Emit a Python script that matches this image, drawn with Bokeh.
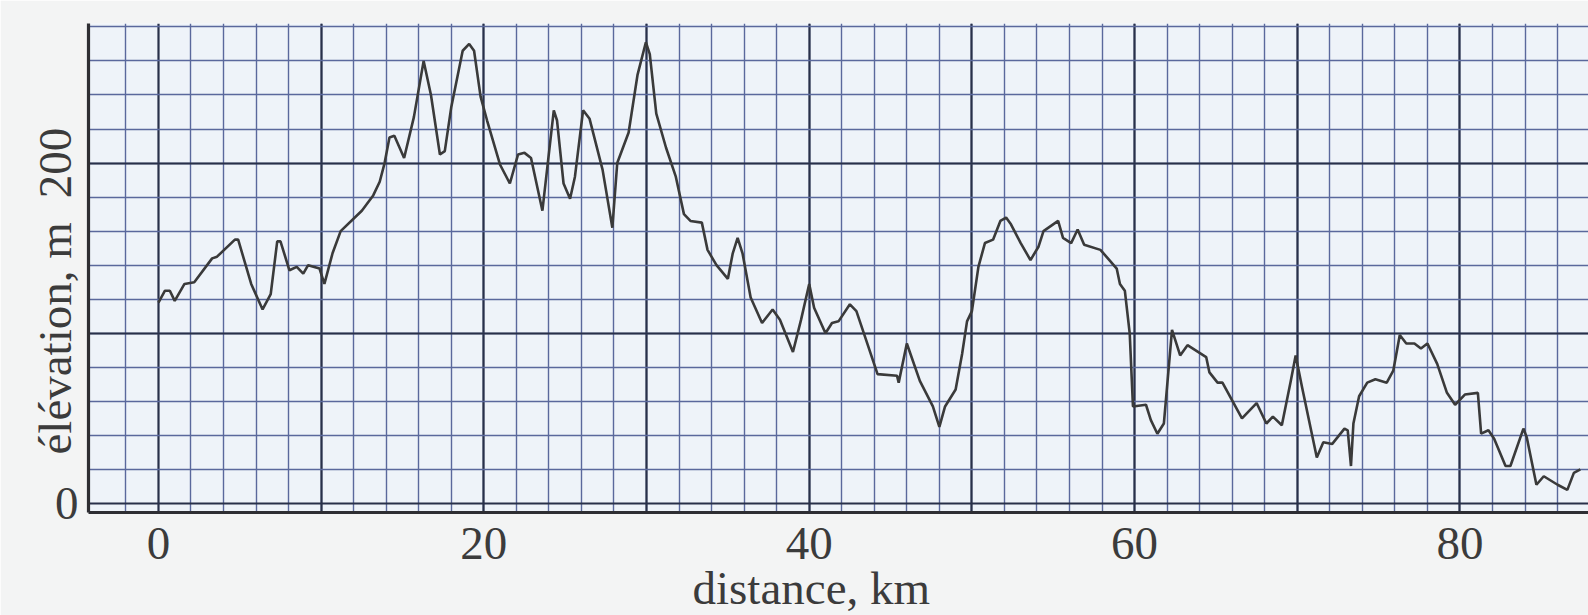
from bokeh.plotting import figure
from bokeh.models import FixedTicker, LinearAxis, Title
from bokeh.embed import file_html
from bokeh.resources import INLINE

# ---- data ----
distance_km = [0.0, 0.4, 0.7, 1.0, 1.6, 2.2, 3.3, 3.6, 4.7, 4.9, 5.7, 6.4, 6.9, 7.3, 7.5,
               8.05, 8.5, 8.9, 9.2, 9.9, 10.2, 10.7, 11.2, 12.5, 13.2, 13.6, 13.9, 14.2, 14.5,
               15.1, 15.7, 16.3, 16.75, 17.3, 17.6, 18.0, 18.7, 19.1, 19.4, 19.8, 20.2, 21.0,
               21.6, 22.1, 22.5, 22.9, 23.6, 24.3, 24.5, 24.9, 25.3, 25.6, 26.1, 26.5, 27.3,
               27.9, 28.2, 28.9, 29.45, 29.96, 30.2, 30.6, 31.2, 31.8, 32.3, 32.7, 33.4, 33.75,
               34.3, 35.0, 35.3, 35.6, 35.9, 36.4, 37.1, 37.75, 38.2, 39.0, 39.5, 40.0, 40.3,
               41.0, 41.4, 41.8, 42.5, 42.9, 43.5, 44.2, 45.4, 45.5, 46.0, 46.8, 47.6, 48.0,
               48.35, 49.0, 49.4, 49.7, 50.0, 50.4, 50.8, 51.3, 51.75, 52.1, 52.4, 53.0, 53.6,
               54.1, 54.4, 55.3, 55.6, 56.1, 56.5, 56.9, 57.9, 58.45, 58.9, 59.1, 59.4, 59.7,
               59.9, 60.7, 61.0, 61.4, 61.8, 62.3, 62.8, 63.25, 64.4, 64.6, 65.1, 65.4, 66.6,
               67.5, 68.1, 68.5, 69.05, 69.6, 69.9, 70.3, 71.2, 71.6, 72.15, 72.9, 73.1, 73.3,
               73.45, 73.8, 74.3, 74.8, 75.5, 75.9, 76.3, 76.7, 77.2, 77.6, 78.0, 78.6, 79.2,
               79.7, 80.3, 81.1, 81.3, 81.75, 82.1, 82.8, 83.1, 83.9, 84.1, 84.7, 85.15, 86.0,
               86.6, 87.0, 87.4]
elevation_m = [118, 125, 125, 119, 129, 130, 144, 145, 155, 155, 129, 114, 123, 154, 154,
               137, 139, 135, 140, 138, 129, 147, 160, 172, 181, 189, 200, 215, 216,
               203, 227, 260, 240, 205, 207, 233, 266, 270, 266, 239, 225, 199,
               188, 205, 206, 203, 172, 231, 225, 188, 179, 192, 231, 226, 196,
               162, 200, 218, 252, 271, 264, 229, 209, 192, 170, 166, 165, 149,
               140, 132, 147, 156, 147, 121, 106, 114, 108, 89, 108, 129, 115,
               100, 106, 107, 117, 113, 96, 76, 75, 71, 94, 72, 57, 45,
               57, 67, 88, 107, 113, 139, 153, 155, 166, 168, 164, 153, 143,
               151, 160, 166, 156, 153, 161, 152, 149, 143, 138, 129, 125, 100,
               57, 58, 49, 41, 47, 102, 87, 93, 86, 77, 71, 71, 50,
               59, 47, 51, 46, 72, 87, 68, 27, 36, 35, 44, 43, 22,
               47, 63, 71, 73, 71, 78, 99, 94, 94, 91, 94, 82, 65,
               58, 64, 65, 41, 43, 38, 22, 22, 44, 39, 11, 16, 11,
               8, 18, 20]

x_tick_values = [0, 20, 40, 60, 80]
y_tick_upright = [0]
y_tick_rotated = [200]
x_title = "distance, km"
y_title = "élévation, m"
y_title_at = 97          # elevation at which the rotated axis title is centred

FONT = "Liberation Serif"
TEXT = "#3b3b3b"
FS = "47px"

p = figure(width=1588, height=615, x_range=(-4.3, 87.9), y_range=(-5.3, 282.0),
           min_border_left=88, min_border_right=0, min_border_top=23, min_border_bottom=103,
           toolbar_location=None, output_backend="svg")
p.background_fill_color = "#eef3f9"
p.border_fill_color = "#f3f4f4"
p.outline_line_color = None

# graph-paper grid
p.xgrid.ticker = FixedTicker(ticks=[0, 10, 20, 30, 40, 50, 60, 70, 80],
                             minor_ticks=[-2] + list(range(2, 88, 2)))
p.ygrid.ticker = FixedTicker(ticks=[0, 100, 200],
                             minor_ticks=list(range(20, 300, 20)))
for g in (p.xgrid, p.ygrid):
    g.grid_line_color = "#283049"
    g.grid_line_width = 2.2
    g.minor_grid_line_color = "#5a689c"
    g.minor_grid_line_width = 1.4

p.line(distance_km, elevation_m, line_color="#3a3a3a", line_width=2.6)


def style(ax):
    ax.major_tick_line_color = None
    ax.minor_tick_line_color = None
    ax.major_tick_out = 0
    ax.major_tick_in = 0
    ax.minor_tick_out = 0
    ax.minor_tick_in = 0
    ax.major_label_text_font = FONT
    ax.major_label_text_font_size = FS
    ax.major_label_text_color = TEXT


# x axis
p.xaxis.ticker = FixedTicker(ticks=x_tick_values)
style(p.xaxis)
p.xaxis.axis_line_color = "#2e2e33"
p.xaxis.axis_line_width = 3.2
p.xaxis.major_label_standoff = 15

# inner y axis: upright "0"
p.yaxis.ticker = FixedTicker(ticks=y_tick_upright)
style(p.yaxis)
p.yaxis.axis_line_color = "#2e2e33"
p.yaxis.axis_line_width = 3.2
p.yaxis.major_label_standoff = 10

# outer y axis: rotated "200" and the axis title in the same column
rot_axis = LinearAxis(ticker=FixedTicker(ticks=[y_title_at] + y_tick_rotated),
                      major_label_overrides={y_title_at: y_title},
                      major_label_orientation="vertical",
                      major_label_standoff=-30, axis_line_color=None)
style(rot_axis)
p.add_layout(rot_axis, "left")

# x axis title
p.add_layout(Title(text=x_title, align="left", offset=604, vertical_align="top",
                   standoff=0, text_font=FONT, text_font_size=FS,
                   text_font_style="normal", text_color=TEXT), "below")

open("out.html", "w").write(file_html(p, INLINE))
